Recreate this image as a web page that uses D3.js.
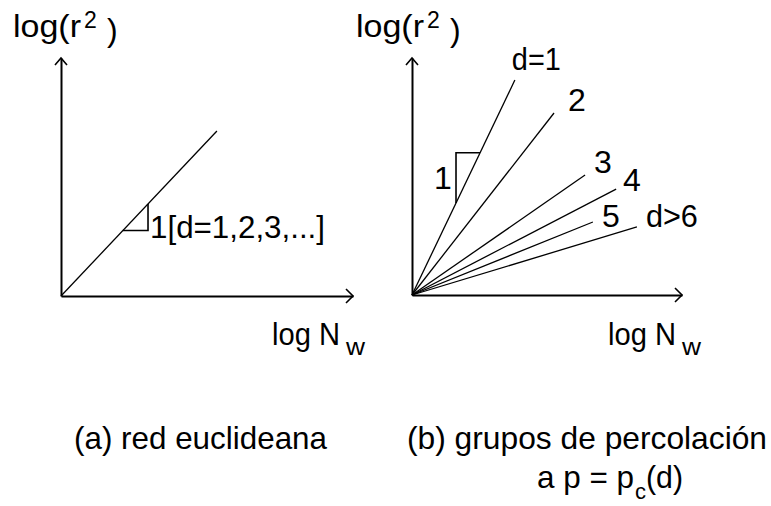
<!DOCTYPE html>
<html>
<head>
<meta charset="utf-8">
<script src="https://cdn.jsdelivr.net/npm/d3@7"></script>
<style>
  body { margin: 0; background: #fff; }
  text { font-family: "Liberation Sans", Arial, sans-serif; fill: #000; }
</style>
</head>
<body>
<svg id="chart" width="771" height="506"></svg>
<script>
// log(r^2) against log N_w, both axes in units 0..10 on each panel

// (a) Euclidean lattice: one line, slope 1 for every d
const euclidEnd = [5.34, 6.93];
const euclidSlopeMark = [2.12, 2.98];      // x-span of the slope triangle

// (b) percolation clusters at p = p_c(d): one line per dimension
const percLabels = ["d=1", "2", "3", "4", "5", "d>6"];
const percEndX   = [3.81, 5.26, 6.41, 7.56, 6.70, 8.33];
const percEndY   = [9.07, 7.68, 5.06, 4.47, 3.08, 2.87];
const percSlopeMark = [1.63, 2.52];        // x-span of the slope triangle on d=1

const yTitle = ["log(r", "2", ")"];
const xTitle = ["log N", "w"];
const slopeTextA = "1[d=1,2,3,...]";
const slopeTextB = "1";
const captionA = "(a) red euclideana";
const captionB = ["(b) grupos de percolación", "a p = p", "c", "(d)"];

const svg = d3.select("#chart");

// narrow, tall lettering: a large size squeezed to a set width
function txt(x, y, size, str, len) {
  const t = svg.append("text").attr("x", x).attr("y", y).attr("font-size", size).text(str);
  if (len) t.attr("textLength", len).attr("lengthAdjust", "spacingAndGlyphs");
  return t;
}

const panels = [
  { x: d3.scaleLinear([0, 10], [61, 353]),  y: d3.scaleLinear([0, 10], [296, 58]), dx: 0,   xt: 272 },
  { x: d3.scaleLinear([0, 10], [412, 682]), y: d3.scaleLinear([0, 10], [295, 58]), dx: 343, xt: 608 }
];

// axes with open arrowheads and titles
panels.forEach((p) => {
  const g = svg.append("g");
  const xr = p.x.range(), yr = p.y.range();

  g.append("g")
    .attr("transform", `translate(0,${yr[0]})`)
    .call(d3.axisBottom(p.x).tickValues([]).tickSizeOuter(0))
    .call(s => s.select(".domain").attr("stroke", "#000").attr("stroke-width", 2));
  g.append("g")
    .attr("transform", `translate(${xr[0]},0)`)
    .call(d3.axisLeft(p.y).tickValues([]).tickSizeOuter(0))
    .call(s => s.select(".domain").attr("stroke", "#000").attr("stroke-width", 2));

  const head = 7;
  g.append("path")
    .attr("d", `M${xr[1] - head},${yr[0] - head}L${xr[1]},${yr[0]}L${xr[1] - head},${yr[0] + head}`)
    .attr("fill", "none").attr("stroke", "#000").attr("stroke-width", 1.6);
  g.append("path")
    .attr("d", `M${xr[0] - head + 1},${yr[1] + head}L${xr[0]},${yr[1]}L${xr[0] + head - 1},${yr[1] + head}`)
    .attr("fill", "none").attr("stroke", "#000").attr("stroke-width", 1.6);

  // y title: log(r^2)
  txt(13 + p.dx, 37, 32, yTitle[0], 68);
  txt(84 + p.dx, 28, 23, yTitle[1]);
  txt(107 + p.dx, 41, 32, yTitle[2]);

  // x title: log N_w
  txt(p.xt, 345, 32, xTitle[0], 68);
  txt(p.xt + 74, 355, 24, xTitle[1], 19);
});

const line = (p) => d3.line().x(d => p.x(d[0])).y(d => p.y(d[1]));

// (a)
const pa = panels[0];
const sa = euclidEnd[1] / euclidEnd[0];
svg.append("path")
  .attr("d", line(pa)([[0, 0], euclidEnd]))
  .attr("fill", "none").attr("stroke", "#000").attr("stroke-width", 1.3);
const [ta0, ta1] = euclidSlopeMark;
svg.append("path")
  .attr("d", line(pa)([[ta0, sa * ta0], [ta1, sa * ta0], [ta1, sa * ta1]]))
  .attr("fill", "none").attr("stroke", "#000").attr("stroke-width", 1.6);
txt(pa.x(ta1) + 2, pa.y(sa * ta0) + 7, 32, slopeTextA, 175);

// (b)
const pb = panels[1];
const labelOffsets = [[-3, -10], [14, -2], [9, -2], [7, 2], [9, 5], [9, 0]];
const labelWidths = [49, null, null, null, null, 52];
percLabels.forEach((lab, i) => {
  svg.append("path")
    .attr("d", line(pb)([[0, 0], [percEndX[i], percEndY[i]]]))
    .attr("fill", "none").attr("stroke", "#000").attr("stroke-width", 1.3);
  txt(pb.x(percEndX[i]) + labelOffsets[i][0], pb.y(percEndY[i]) + labelOffsets[i][1],
      32, lab, labelWidths[i]);
});
const s1 = percEndY[0] / percEndX[0];
const [tb0, tb1] = percSlopeMark;
svg.append("path")
  .attr("d", line(pb)([[tb0, s1 * tb0], [tb0, s1 * tb1], [tb1, s1 * tb1]]))
  .attr("fill", "none").attr("stroke", "#000").attr("stroke-width", 1.6);
txt(pb.x(tb0) - 22, pb.y(s1 * (tb0 + tb1) / 2) + 11, 32, slopeTextB);

// captions
txt(74, 449, 32, captionA, 253);
txt(407, 449, 32, captionB[0], 360);
txt(537, 488, 32, captionB[1], 97);
txt(635, 499, 22, captionB[2]);
txt(646, 488, 32, captionB[3], 37);
</script>
</body>
</html>
